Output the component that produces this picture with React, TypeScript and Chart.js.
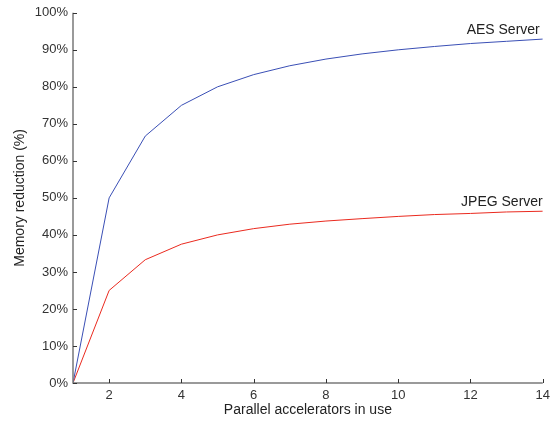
import React, { useEffect, useRef } from "react";
import { Chart, registerables } from "chart.js";

Chart.register(...registerables);

const accelerators = [1, 2, 3, 4, 5, 6, 7, 8, 9, 10, 11, 12, 13, 14];
const aesServer = [0, 50, 66.7, 75, 80, 83.3, 85.7, 87.5, 88.9, 90, 90.9, 91.7, 92.3, 92.9];
const jpegServer = [0, 25, 33.3, 37.5, 40, 41.7, 42.9, 43.75, 44.4, 45, 45.5, 45.8, 46.2, 46.4];
const xTicks = [2, 4, 6, 8, 10, 12, 14];
const yTicks = [0, 10, 20, 30, 40, 50, 60, 70, 80, 90, 100];
const seriesLabels = ["AES Server", "JPEG Server"];

const FONT = "'Liberation Sans', Arial, Helvetica, sans-serif";
const AXIS_COLOR = "#7a7a7a";

const axesPlugin = {
  id: "matlabAxes",
  afterDraw(chart: any) {
    const { ctx, chartArea } = chart;
    const xs = chart.scales.x;
    const ys = chart.scales.y;
    ctx.save();
    ctx.strokeStyle = AXIS_COLOR;
    ctx.lineWidth = 1.5;
    ctx.beginPath();
    ctx.moveTo(chartArea.left, chartArea.top);
    ctx.lineTo(chartArea.left, chartArea.bottom);
    ctx.lineTo(chartArea.right, chartArea.bottom);
    ctx.stroke();
    ctx.lineWidth = 1;
    ctx.strokeStyle = "#333";
    ctx.beginPath();
    xTicks.forEach((v) => {
      const px = Math.round(xs.getPixelForValue(v)) + 0.5;
      ctx.moveTo(px, chartArea.bottom);
      ctx.lineTo(px, chartArea.bottom - 4);
    });
    yTicks.forEach((v) => {
      const py = Math.round(ys.getPixelForValue(v)) + 0.5;
      ctx.moveTo(chartArea.left, py);
      ctx.lineTo(chartArea.left + 4, py);
    });
    ctx.stroke();

    // series labels near line ends
    ctx.fillStyle = "#222";
    ctx.font = `14px ${FONT}`;
    ctx.textAlign = "right";
    ctx.textBaseline = "middle";
    const lastX = accelerators[accelerators.length - 1];
    const aesY = ys.getPixelForValue(aesServer[aesServer.length - 1]);
    const jpegY = ys.getPixelForValue(jpegServer[jpegServer.length - 1]);
    ctx.fillText(seriesLabels[0], xs.getPixelForValue(lastX) - 3, aesY - 9);
    ctx.fillText(seriesLabels[1], xs.getPixelForValue(lastX), jpegY - 9);
    ctx.restore();
  },
};

export default function App() {
  const ref = useRef<HTMLCanvasElement | null>(null);
  useEffect(() => {
    document.body.style.margin = "0";
    if (!ref.current) return;
    const chart = new Chart(ref.current, {
      type: "line",
      data: {
        datasets: [
          {
            label: seriesLabels[0],
            data: accelerators.map((x, i) => ({ x, y: aesServer[i] })),
            borderColor: "#3a4fb5",
            borderWidth: 1,
            pointRadius: 0,
            tension: 0,
          },
          {
            label: seriesLabels[1],
            data: accelerators.map((x, i) => ({ x, y: jpegServer[i] })),
            borderColor: "#ea2a1f",
            borderWidth: 1,
            pointRadius: 0,
            tension: 0,
          },
        ],
      },
      options: {
        animation: false,
        responsive: false,
        maintainAspectRatio: false,
        layout: { padding: { left: 0, top: 11, right: 11, bottom: 0 } },
        plugins: { legend: { display: false }, tooltip: { enabled: false } },
        scales: {
          x: {
            type: "linear",
            min: 1,
            max: 14,
            grid: { display: false, drawTicks: false, tickLength: 0 },
            border: { display: false },
            afterBuildTicks: (s: any) => {
              s.ticks = xTicks.map((v) => ({ value: v }));
            },
            afterFit: (s: any) => {
              s.height = 40;
            },
            ticks: {
              color: "#333",
              font: { family: FONT, size: 13 },
              padding: 5,
              maxRotation: 0,
              autoSkip: false,
            },
            title: {
              display: true,
              text: "Parallel accelerators in use",
              color: "#222",
              font: { family: FONT, size: 14 },
              padding: { top: 0, bottom: 4 },
            },
          },
          y: {
            type: "linear",
            min: 0,
            max: 100,
            grid: { display: false, drawTicks: false, tickLength: 0 },
            border: { display: false },
            afterBuildTicks: (s: any) => {
              s.ticks = yTicks.map((v) => ({ value: v }));
            },
            afterFit: (s: any) => {
              s.width = 73;
            },
            ticks: {
              color: "#333",
              font: { family: FONT, size: 13 },
              padding: 5,
              autoSkip: false,
              callback: (v: any) => `${v}%`,
            },
            title: {
              display: true,
              text: "Memory reduction (%)",
              color: "#222",
              font: { family: FONT, size: 14 },
              padding: { top: 12, bottom: 0 },
            },
          },
        },
      },
      plugins: [axesPlugin],
    });
    return () => chart.destroy();
  }, []);
  return (
    <div style={{ position: "absolute", left: 0, top: 0, width: 555, height: 423 }}>
      <canvas ref={ref} width={555} height={423} />
    </div>
  );
}
